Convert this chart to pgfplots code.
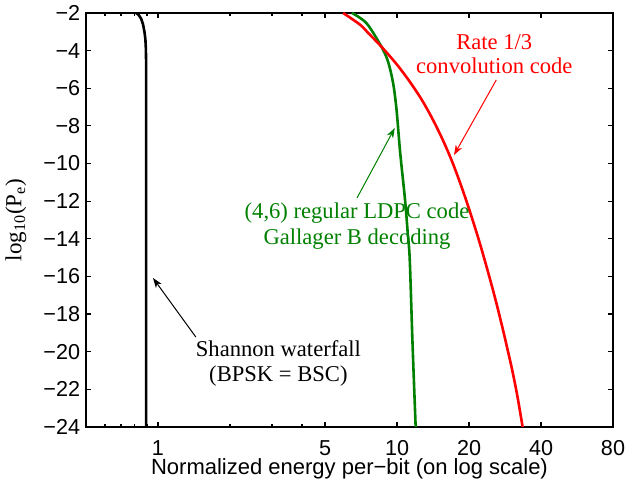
\documentclass[border=0pt]{standalone}
\usepackage{fontspec}
\setmainfont{Liberation Sans}
\newfontfamily\tnr{Liberation Serif}
\usepackage{pgfplots}
\pgfplotsset{compat=1.18}
\usetikzlibrary{arrows.meta}
\definecolor{mygreen}{RGB}{0,128,0}
\begin{document}
\begin{tikzpicture}
\begin{axis}[
  at={(0,0)}, anchor=south west,
  scale only axis, width=263.5pt, height=207pt,
  xmode=log, xmin=0.5, xmax=80, ymin=-24, ymax=-2,
  xtick={1,5,10,20,40,80}, xticklabels={1,5,10,20,40,80},
  minor xtick={0.6,0.7,0.8,0.9,2,3,4},
  ytick={-24,-22,...,-2},
  yticklabels={−24,−22,−20,−18,−16,−14,−12,−10,−8,−6,−4,−2},
  tick align=inside,
  major tick length=2.5pt, minor tick length=1.5pt,
  tick style={black, line width=0.6pt},
  axis line style={line width=0.6pt},
  ticklabel style={font=\fontsize{10.8}{12}\selectfont},
  xticklabel style={yshift=-3.3pt},
  yticklabel style={xshift=0.6pt},
  xlabel={Normalized energy per−bit (on log scale)},
  xlabel style={at={(axis description cs:0.5,0)}, anchor=base, yshift=-24pt, font=\fontsize{11}{12}\selectfont},
  ylabel={log\textsubscript{10}(P\textsubscript{e})},
  ylabel style={at={(axis description cs:-0.133,0.5)}, anchor=center, font=\tnr\fontsize{11.5}{12}\selectfont},
]
\addplot[black, line width=1.3pt] coordinates {
(0.810,-2.0) (0.830,-2.1) (0.850,-2.3) (0.866,-2.6) (0.878,-3.0) (0.886,-3.4) (0.890,-3.9) (0.892,-4.6) (0.892,-6) (0.892,-24)};
\addplot[mygreen, line width=1.3pt, smooth] coordinates {
(6.48,-2) (7.46,-2.55) (8.6,-3.79) (9.17,-4.59) (9.63,-5.74) (9.95,-7.15) (10.3,-9.4) (10.8,-11.94) (11.08,-13.69) (11.3,-15.12) (11.6,-19.5) (11.96,-24)};
\addplot[red, line width=1.3pt, smooth] coordinates {
(5.95,-2) (7.0,-2.62) (7.57,-3.06) (8.63,-3.81) (10,-4.75) (11.3,-5.65) (12.67,-6.6) (14,-7.58) (15.5,-8.72) (17,-9.9) (18.5,-11.15) (20.07,-12.47) (22,-14.08) (23.85,-15.63) (25.7,-17.15) (27.54,-18.68) (29,-19.9) (30.3,-20.97) (31.9,-22.4) (33.5,-24)};

\node[red, font=\tnr\fontsize{11.3}{12}\selectfont, align=center] at (axis cs:25.5,-4.2) {Rate 1/3\\convolution code};
\draw[red, line width=0.5pt, -{Stealth[length=5pt,width=3.5pt,inset=1.5pt]}] (axis cs:26.0,-5.56) -- (axis cs:17.3,-9.55);

\node[mygreen, font=\tnr\fontsize{11.3}{13}\selectfont, align=center] at (axis cs:6.80,-13.32) {(4,6) regular LDPC code\\Gallager B decoding};
\draw[mygreen, line width=0.5pt, -{Stealth[length=5pt,width=3.5pt,inset=1.5pt]}] (axis cs:6.80,-11.83) -- (axis cs:9.78,-8.11);

\node[black, font=\tnr\fontsize{11.3}{12.5}\selectfont, align=center] at (axis cs:3.19,-20.65) {Shannon waterfall\\(BPSK = BSC)};
\draw[black, line width=0.5pt, -{Stealth[length=5pt,width=3.5pt,inset=1.5pt]}] (axis cs:1.44,-19.22) -- (axis cs:0.953,-16.08);
\end{axis}
\pgfresetboundingbox
\path (-43pt,-29pt) rectangle (271pt,213.5pt);
\end{tikzpicture}
\end{document}
